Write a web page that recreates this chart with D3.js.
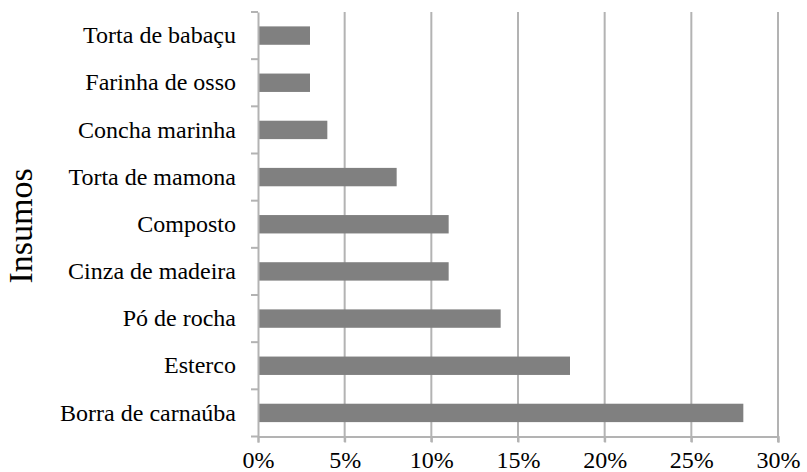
<!DOCTYPE html>
<html><head><meta charset="utf-8">
<script src="https://cdn.jsdelivr.net/npm/d3@7"></script>
<style>body{margin:0;background:#fff}svg{display:block}</style>
</head><body>
<script>
const categories = ["Torta de babaçu","Farinha de osso","Concha marinha","Torta de mamona","Composto","Cinza de madeira","Pó de rocha","Esterco","Borra de carnaúba"];
const values = [3,3,4,8,11,11,14,18,28];
const xTicks = [0,5,10,15,20,25,30];
const yTitle = "Insumos";

const W=807,H=472;
const svg=d3.select("body").append("svg").attr("width",W).attr("height",H);
const font="'Liberation Serif','Times New Roman',serif";
const x=d3.scaleLinear().domain([0,30]).range([258,778]);
const y=d3.scaleBand().domain(categories).range([12,436.5]).paddingInner(0.61).paddingOuter(0.305);

// grid
svg.append("g").selectAll("line").data(xTicks.slice(1)).join("line")
 .attr("x1",d=>x(d)).attr("x2",d=>x(d)).attr("y1",12).attr("y2",442)
 .attr("stroke","#b3b3b3").attr("stroke-width",2);

// bars
svg.append("g").selectAll("rect").data(values).join("rect")
 .attr("x",x(0)).attr("y",(d,i)=>y(categories[i])).attr("width",d=>x(d)-x(0)).attr("height",y.bandwidth())
 .attr("fill","#808080");

// x axis
const xa=svg.append("g").attr("transform","translate(0,436.5)")
 .call(d3.axisBottom(x).tickValues(xTicks).tickFormat(d=>d+"%").tickSize(6).tickPadding(8));
xa.select(".domain").attr("stroke","#b3b3b3").attr("stroke-width",2);
xa.selectAll(".tick line").attr("stroke","#b3b3b3").attr("stroke-width",2);
xa.selectAll("text").attr("font-family",font).attr("font-size",24).attr("fill","#000");

// y axis with ticks at band boundaries
const ya=svg.append("g").attr("transform","translate(258,0)")
 .call(d3.axisLeft(y).tickSize(0).tickPadding(22));
ya.select(".domain").attr("stroke","#b3b3b3").attr("stroke-width",2);
ya.selectAll("text").attr("font-family",font).attr("font-size",24).attr("fill","#000");
const bounds=d3.range(categories.length+1).map(i=>12+i*(436.5-12)/categories.length);
ya.append("g").selectAll("line").data(bounds).join("line")
 .attr("x1",-7).attr("x2",0).attr("y1",d=>d).attr("y2",d=>d)
 .attr("stroke","#b3b3b3").attr("stroke-width",2);

svg.append("text").attr("transform","translate(32,226) rotate(-90)")
 .attr("text-anchor","middle").attr("font-family",font).attr("font-size",34).text(yTitle);
</script>
</body></html>
